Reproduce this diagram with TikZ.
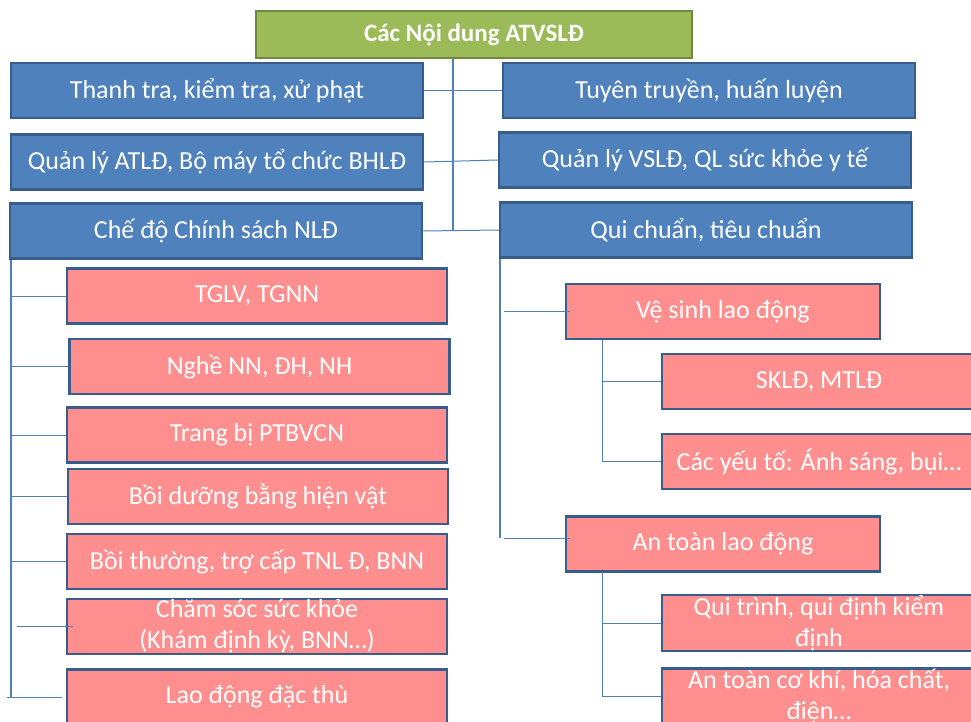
\documentclass[tikz,border=0pt]{standalone}
\usepackage{fontspec}
\setmainfont{Carlito}
\usepackage{xcolor}
\usepackage{tikz}
\usetikzlibrary{positioning}
\definecolor{boxblue}{HTML}{4F81BD}
\definecolor{edgeblue}{HTML}{385D8A}
\definecolor{boxgreen}{HTML}{9BBB59}
\definecolor{edgegreen}{HTML}{71893F}
\definecolor{boxpink}{HTML}{FF8F8F}
\definecolor{linkblue}{HTML}{4F81BD}

\begin{document}
\begin{tikzpicture}[x=1pt,y=-1pt,
	head node/.style={rectangle, draw=edgegreen, line width=2.5pt, fill=boxgreen, text=white, font=\bfseries\fontsize{25}{30}\selectfont, minimum width=436pt, minimum height=47pt, inner sep=0pt},
	main node/.style={rectangle, draw=edgeblue, line width=2.5pt, fill=boxblue, text=white, font=\fontsize{26}{31}\selectfont, minimum width=412pt, minimum height=55pt, inner sep=0pt},
	sub node/.style={rectangle, draw=edgeblue, line width=2.5pt, fill=boxpink, text=white, font=\fontsize{26}{31}\selectfont, minimum width=380pt, minimum height=55pt, inner sep=0pt, align=center},
	leaf node/.style={sub node, minimum width=314pt},
	link/.style={linkblue, line width=1pt},
	rail/.style={linkblue, line width=2pt}]
			\clip (0,0) rectangle (971,722);
			\fill[white] (0,0) rectangle (971,722);
			% Nodes
			\node[head node] (top) at (474,34.5) {Các Nội dung ATVSLĐ};
			\node[main node] (1) at (217,90.5) {Thanh tra, kiểm tra, xử phạt};
			\node[main node] (2) at (709,90.5) {Tuyên truyền, huấn luyện};
			\node[main node] (3) at (217,162) {Quản lý ATLĐ, Bộ máy tổ chức BHLĐ};
			\node[main node] (4) at (705,160) {Quản lý VSLĐ, QL sức khỏe y tế};
			\node[main node] (5) at (216,231) {Chế độ Chính sách NLĐ};
			\node[main node] (6) at (706,230) {Qui chuẩn, tiêu chuẩn};
			
			% left column
			\node[sub node] (p1) at (257,296) {TGLV, TGNN};
			\node[sub node] (p2) at (259.5,366.5) {Nghề NN, ĐH, NH};
			\node[sub node] (p3) at (257,435) {Trang bị PTBVCN};
			\node[sub node] (p4) at (258,496.5) {Bồi dưỡng bằng hiện vật};
			\node[sub node] (p5) at (257,561.5) {Bồi thường, trợ cấp TNL Đ, BNN};
			\node[sub node] (p6) at (257,626.5) {Chăm sóc sức khỏe\\(Khám định kỳ, BNN…)};
			\node[sub node] (p7) at (257,697) {Lao động đặc thù};
			
			% right column
			\node[leaf node] (v1) at (723,311.5) {Vệ sinh lao động};
			\node[leaf node] (v2) at (819,381.5) {SKLĐ, MTLĐ};
			\node[leaf node] (v3) at (819,461.5) {Các yếu tố: Ánh sáng, bụi…};
			\node[leaf node] (a1) at (723,544) {An toàn lao động};
			\node[leaf node] (a2) at (819,623) {Qui trình, qui định kiểm\\định};
			\node[leaf node] (a3) at (819,696) {An toàn cơ khí, hóa chất,\\điện…};
			
			\coordinate (spine) at (453,0);
			\coordinate (lrail) at (11,697);
			\coordinate (rrail) at (500,538);
			\coordinate (srail) at (602,0);
			
			% links
			\draw[rail] (top.south -| spine) -- (5.east -| spine);
			\draw[link] (1.east) -- (2.west);
			\draw[link] (3.east) -- (4.west);
			\draw[link] (5.east) -- (6.west);
			
			\draw[rail] (5.south -| lrail) -- (lrail);
			\foreach \n in {1,2,3,4,5}
				\draw[link] (p\n.west -| lrail) -- (p\n.west);
			\draw[link] ([xshift=6pt]p6.west -| lrail) -- ([xshift=7pt]p6.west);
			\draw[link] ([xshift=-4pt]p7.west -| lrail) -- ([xshift=-4pt]p7.west);
			
			\draw[rail] (6.south -| rrail) -- (rrail);
			\draw[link] ([xshift=4pt]v1.west -| rrail) -- ([xshift=5pt]v1.west);
			\draw[link] ([xshift=4pt]rrail) -- ([xshift=5pt,yshift=6pt]a1.west);
			
			\draw[link] (v1.south -| srail) |- (v3.west);
			\draw[link] (v2.west -| srail) -- (v2.west);
			\draw[link] (a1.south -| srail) |- (a3.west);
			\draw[link] (a2.west -| srail) -- (a2.west);
			
		\end{tikzpicture}
\end{document}
